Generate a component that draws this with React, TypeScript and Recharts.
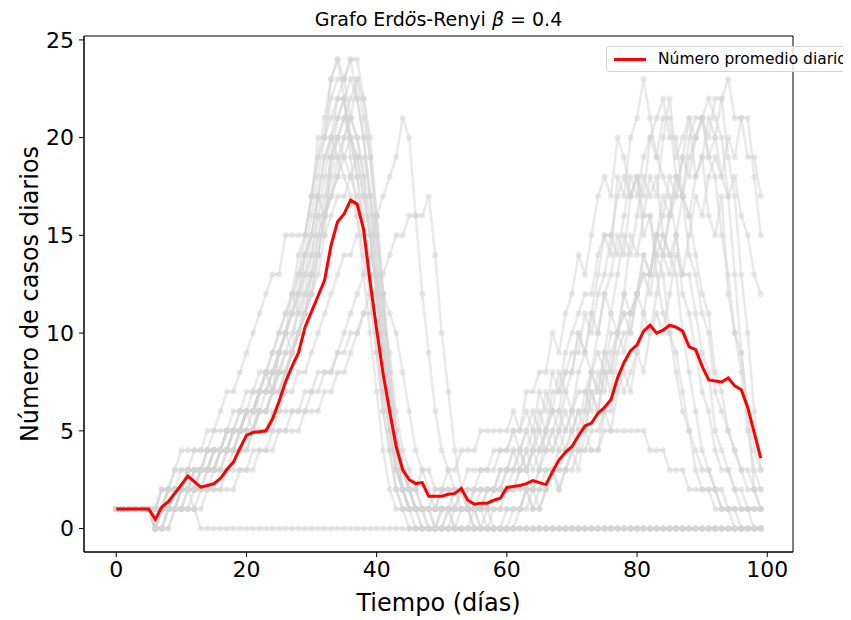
import React from "react";
import { LineChart, Line, XAxis, YAxis, ReferenceArea } from "recharts";

// ---- data ----
const meanDaily = [
  1, 1, 1, 1, 1, 1, 0.47, 1.1, 1.37, 1.8,
  2.25, 2.68, 2.4, 2.12, 2.2, 2.29, 2.56, 3.02, 3.4, 4.1,
  4.77, 4.92, 4.95, 5.0, 5.6, 6.5, 7.5, 8.3, 9.0, 10.3,
  11.1, 11.9, 12.7, 14.5, 15.7, 16.1, 16.8, 16.6, 15.3, 12.6,
  10.2, 7.9, 6.0, 4.2, 3.0, 2.5, 2.3, 2.35, 1.65, 1.65,
  1.65, 1.75, 1.8, 2.05, 1.45, 1.25, 1.3, 1.3, 1.45, 1.55,
  2.1, 2.15, 2.2, 2.3, 2.45, 2.35, 2.25, 2.9, 3.5, 3.9,
  4.2, 4.75, 5.25, 5.4, 5.9, 6.2, 6.6, 7.7, 8.5, 9.1,
  9.4, 10.1, 10.4, 10.0, 10.15, 10.4, 10.3, 10.1, 9.3, 9.15,
  8.3, 7.6, 7.55, 7.5, 7.7, 7.3, 7.1, 6.2, 4.9, 3.6,
];

const run01 = [
  1, 1, 1, 1, 1, 1, 0, 0, 0, 1,
  1, 2, 1, 0, 0, 0, 0, 0, 0, 0,
  0, 0, 0, 0, 0, 0, 0, 0, 0, 0,
  0, 0, 0, 0, 0, 0, 0, 0, 0, 0,
  0, 0, 0, 0, 0, 0, 0, 0, 0, 0,
  0, 0, 0, 0, 0, 0, 0, 0, 0, 0,
  0, 0, 0, 0, 0, 0, 0, 0, 0, 0,
  0, 0, 0, 0, 0, 0, 0, 0, 0, 0,
  0, 0, 0, 0, 0, 0, 0, 0, 0, 0,
  0, 0, 0, 0, 0, 0, 0, 0, 0, 0,
];
const run02 = [
  1, 1, 1, 1, 1, 1, 1, 2, 2, 3,
  4, 4, 4, 4, 5, 5, 6, 7, 7, 8,
  9, 10, 11, 12, 13, 13, 15, 15, 15, 15,
  17, 20, 20, 23, 24, 22, 19, 16, 13, 10,
  7, 4, 2, 1, 1, 0, 0, 0, 0, 0,
  0, 0, 0, 0, 0, 0, 0, 0, 0, 0,
  0, 0, 0, 0, 0, 0, 0, 0, 0, 0,
  0, 0, 0, 0, 0, 0, 0, 0, 0, 0,
  0, 0, 0, 0, 0, 0, 0, 0, 0, 0,
  0, 0, 0, 0, 0, 0, 0, 0, 0, 0,
];
const run03 = [
  1, 1, 1, 1, 1, 1, 1, 1, 2, 2,
  3, 3, 2, 3, 3, 4, 4, 5, 5, 6,
  6, 6, 7, 7, 8, 8, 9, 10, 11, 12,
  14, 16, 18, 20, 22, 23, 24, 24, 22, 20,
  16, 12, 8, 5, 3, 2, 1, 1, 1, 0,
  0, 1, 1, 2, 1, 1, 0, 1, 1, 1,
  2, 2, 3, 3, 4, 3, 5, 6, 6, 8,
  8, 10, 9, 11, 13, 15, 14, 18, 17, 20,
  21, 23, 21, 19, 18, 17, 15, 12, 11, 9,
  7, 6, 4, 3, 3, 2, 1, 1, 0, 0,
];
const run04 = [
  1, 1, 1, 1, 1, 1, 0, 1, 1, 2,
  2, 2, 3, 3, 3, 4, 4, 4, 5, 5,
  6, 6, 7, 7, 8, 9, 10, 11, 13, 15,
  17, 19, 21, 23, 24, 23, 21, 20, 18, 15,
  12, 8, 5, 3, 2, 1, 1, 0, 0, 0,
  0, 0, 0, 0, 0, 1, 1, 1, 0, 0,
  1, 1, 1, 2, 2, 2, 3, 3, 4, 4,
  5, 4, 6, 8, 7, 9, 11, 10, 12, 15,
  14, 16, 18, 17, 20, 22, 19, 20, 21, 18,
  19, 16, 15, 17, 12, 10, 9, 6, 4, 3,
];
const run05 = [
  1, 1, 1, 1, 1, 1, 1, 1, 1, 1,
  2, 2, 2, 2, 3, 3, 4, 4, 5, 5,
  5, 5, 6, 6, 7, 7, 8, 9, 10, 11,
  12, 14, 16, 18, 20, 21, 22, 23, 21, 19,
  15, 11, 7, 4, 2, 1, 1, 1, 0, 0,
  1, 1, 0, 0, 0, 0, 0, 0, 1, 1,
  1, 1, 1, 2, 1, 2, 2, 3, 2, 3,
  3, 4, 4, 5, 5, 6, 6, 8, 7, 8,
  9, 11, 10, 12, 14, 13, 15, 17, 16, 18,
  19, 21, 20, 22, 23, 21, 21, 19, 19, 17,
];
const run06 = [
  1, 1, 1, 1, 1, 1, 0, 0, 1, 1,
  1, 2, 2, 3, 3, 3, 3, 4, 4, 5,
  5, 5, 6, 6, 7, 8, 8, 9, 10, 12,
  13, 15, 17, 19, 20, 21, 20, 19, 17, 15,
  12, 9, 6, 4, 3, 2, 1, 1, 1, 1,
  2, 2, 1, 1, 1, 0, 0, 0, 0, 0,
  0, 1, 1, 2, 1, 1, 2, 3, 2, 3,
  4, 3, 5, 4, 4, 6, 5, 7, 8, 7,
  9, 8, 10, 11, 10, 12, 14, 13, 15, 17,
  16, 18, 19, 18, 20, 19, 21, 21, 18, 15,
];
const run07 = [
  1, 1, 1, 1, 1, 1, 1, 2, 2, 2,
  2, 3, 3, 3, 4, 4, 4, 5, 5, 5,
  6, 6, 7, 8, 8, 9, 10, 11, 12, 14,
  15, 17, 19, 20, 21, 22, 23, 22, 20, 17,
  14, 10, 7, 4, 3, 2, 2, 1, 1, 1,
  1, 1, 2, 2, 1, 1, 1, 0, 0, 0,
  0, 0, 1, 1, 2, 1, 2, 3, 3, 4,
  4, 5, 5, 7, 6, 8, 8, 10, 11, 10,
  12, 14, 13, 15, 17, 16, 18, 17, 20, 21,
  21, 19, 20, 18, 17, 18, 16, 15, 13, 12,
];
const run08 = [
  1, 1, 1, 1, 1, 1, 0, 0, 1, 1,
  1, 1, 1, 2, 2, 2, 2, 3, 3, 3,
  3, 4, 4, 4, 5, 5, 5, 6, 6, 6,
  7, 7, 8, 8, 9, 10, 11, 12, 13, 14,
  16, 17, 18, 19, 21, 20, 16, 12, 9, 6,
  4, 3, 2, 1, 1, 0, 0, 0, 0, 0,
  0, 0, 0, 0, 0, 0, 0, 0, 0, 0,
  0, 0, 0, 0, 0, 0, 0, 0, 0, 0,
  0, 0, 0, 0, 0, 0, 0, 0, 0, 0,
  0, 0, 0, 0, 0, 0, 0, 0, 0, 0,
];
const run09 = [
  1, 1, 1, 1, 1, 1, 1, 1, 1, 2,
  2, 2, 3, 3, 3, 3, 4, 4, 4, 4,
  4, 5, 5, 5, 5, 6, 6, 6, 6, 7,
  7, 8, 8, 8, 9, 9, 10, 10, 11, 12,
  12, 13, 14, 15, 15, 16, 16, 16, 17, 14,
  10, 7, 4, 2, 1, 1, 0, 0, 0, 0,
  0, 0, 0, 0, 0, 0, 0, 0, 0, 0,
  0, 0, 0, 0, 0, 0, 0, 0, 0, 0,
  0, 0, 0, 0, 0, 0, 0, 0, 0, 0,
  0, 0, 0, 0, 0, 0, 0, 0, 0, 0,
];
const run10 = [
  1, 1, 1, 1, 1, 1, 1, 1, 2, 3,
  3, 3, 4, 4, 4, 5, 5, 5, 6, 6,
  6, 7, 7, 8, 9, 10, 11, 12, 14, 15,
  17, 19, 20, 21, 22, 22, 20, 18, 16, 13,
  10, 7, 5, 3, 2, 2, 2, 3, 3, 2,
  2, 3, 3, 4, 4, 4, 5, 5, 5, 5,
  5, 6, 5, 7, 7, 8, 8, 10, 9, 11,
  12, 14, 13, 15, 17, 18, 17, 20, 19, 17,
  18, 15, 16, 13, 11, 10, 8, 6, 5, 4,
  3, 3, 2, 1, 1, 1, 0, 0, 0, 0,
];
const run11 = [
  1, 1, 1, 1, 1, 1, 0, 1, 1, 1,
  2, 2, 2, 3, 3, 3, 4, 4, 4, 5,
  6, 6, 7, 8, 7, 9, 10, 9, 12, 13,
  14, 16, 15, 19, 20, 19, 18, 17, 15, 13,
  10, 7, 5, 3, 2, 2, 1, 1, 1, 2,
  2, 2, 2, 2, 3, 3, 3, 3, 4, 4,
  4, 5, 4, 5, 6, 5, 7, 6, 8, 7,
  8, 10, 9, 11, 10, 12, 13, 15, 14, 17,
  18, 17, 20, 21, 22, 20, 20, 17, 16, 14,
  12, 11, 8, 7, 5, 4, 3, 2, 2, 1,
];
const run12 = [
  1, 1, 1, 1, 1, 1, 1, 1, 1, 2,
  2, 2, 3, 3, 3, 3, 4, 4, 4, 5,
  6, 6, 7, 7, 7, 8, 8, 9, 10, 11,
  13, 15, 16, 17, 18, 20, 21, 23, 22, 19,
  16, 12, 8, 5, 3, 2, 1, 1, 1, 1,
  1, 1, 1, 1, 1, 2, 2, 2, 2, 2,
  3, 3, 4, 3, 4, 5, 4, 5, 6, 5,
  6, 7, 7, 8, 9, 8, 10, 10, 12, 11,
  12, 13, 13, 15, 14, 16, 17, 19, 18, 20,
  21, 20, 22, 22, 19, 17, 13, 10, 6, 3,
];
const run13 = [
  1, 1, 1, 1, 1, 1, 0, 1, 2, 2,
  2, 3, 3, 3, 4, 4, 4, 5, 5, 6,
  7, 7, 8, 8, 9, 10, 11, 12, 13, 14,
  16, 18, 20, 22, 23, 23, 24, 22, 20, 17,
  13, 9, 6, 3, 2, 1, 1, 1, 0, 0,
  1, 1, 1, 1, 1, 1, 2, 2, 2, 3,
  3, 4, 4, 5, 4, 6, 5, 7, 7, 8,
  9, 9, 11, 10, 12, 13, 15, 14, 16, 18,
  17, 19, 20, 19, 21, 21, 18, 17, 14, 13,
  11, 10, 7, 6, 5, 4, 3, 3, 2, 2,
];
const run14 = [
  1, 1, 1, 1, 1, 1, 1, 1, 1, 1,
  2, 2, 2, 3, 3, 3, 4, 4, 5, 5,
  5, 6, 6, 7, 7, 8, 9, 9, 10, 11,
  13, 14, 16, 17, 19, 20, 21, 20, 18, 16,
  13, 10, 6, 4, 2, 1, 1, 1, 1, 1,
  2, 2, 2, 2, 2, 2, 3, 3, 3, 4,
  4, 5, 5, 6, 5, 7, 6, 8, 7, 9,
  10, 11, 12, 12, 14, 15, 15, 17, 18, 17,
  18, 16, 16, 14, 13, 10, 9, 7, 5, 3,
  2, 2, 1, 1, 1, 0, 0, 0, 0, 0,
];
const run15 = [
  1, 1, 1, 1, 1, 1, 1, 2, 2, 2,
  2, 3, 3, 3, 4, 4, 4, 5, 5, 5,
  6, 5, 7, 8, 7, 9, 10, 12, 11, 13,
  15, 17, 16, 19, 21, 22, 20, 18, 15, 12,
  9, 6, 4, 2, 1, 1, 0, 0, 0, 0,
  0, 0, 1, 1, 1, 1, 1, 1, 2, 2,
  2, 2, 2, 2, 2, 3, 3, 3, 3, 3,
  4, 4, 4, 4, 4, 5, 5, 5, 5, 5,
  5, 5, 4, 4, 4, 3, 3, 3, 2, 2,
  2, 2, 2, 1, 1, 1, 1, 1, 1, 1,
];
const run16 = [
  1, 1, 1, 1, 1, 1, 0, 1, 1, 2,
  2, 2, 3, 3, 3, 4, 4, 4, 5, 5,
  6, 6, 7, 7, 8, 9, 10, 11, 12, 14,
  15, 17, 19, 20, 19, 18, 17, 16, 14, 12,
  9, 6, 4, 2, 1, 1, 1, 1, 1, 1,
  1, 1, 1, 2, 2, 2, 2, 2, 2, 2,
  3, 3, 4, 3, 4, 4, 5, 4, 5, 6,
  5, 6, 6, 8, 7, 9, 8, 10, 11, 11,
  12, 14, 13, 15, 16, 18, 17, 19, 21, 20,
  21, 19, 18, 15, 13, 10, 8, 5, 3, 2,
];
const run17 = [
  1, 1, 1, 1, 1, 1, 0, 0, 0, 1,
  1, 1, 2, 2, 2, 3, 3, 3, 4, 4,
  4, 5, 5, 5, 6, 6, 7, 7, 8, 8,
  9, 10, 11, 12, 13, 14, 14, 15, 15, 14,
  13, 11, 9, 6, 4, 3, 2, 1, 1, 0,
  0, 0, 0, 1, 1, 1, 1, 2, 2, 2,
  2, 3, 3, 4, 3, 4, 4, 5, 4, 5,
  6, 5, 7, 6, 8, 7, 9, 10, 9, 11,
  12, 13, 12, 14, 15, 14, 15, 13, 13, 11,
  9, 8, 5, 4, 3, 2, 2, 1, 1, 1,
];
const run18 = [
  1, 1, 1, 1, 1, 1, 0, 0, 1, 1,
  1, 1, 1, 1, 2, 2, 2, 2, 2, 3,
  3, 3, 4, 4, 4, 5, 5, 5, 5, 6,
  6, 6, 7, 7, 8, 8, 9, 10, 11, 11,
  12, 12, 11, 10, 8, 6, 4, 3, 2, 1,
  1, 1, 0, 0, 0, 0, 0, 0, 0, 0,
  0, 0, 0, 0, 0, 0, 0, 0, 0, 0,
  0, 0, 0, 0, 0, 0, 0, 0, 0, 0,
  0, 0, 0, 0, 0, 0, 0, 0, 0, 0,
  0, 0, 0, 0, 0, 0, 0, 0, 0, 0,
];
const run19 = [
  1, 1, 1, 1, 1, 1, 1, 1, 2, 2,
  2, 3, 3, 3, 3, 4, 4, 4, 5, 5,
  5, 5, 6, 6, 7, 7, 8, 9, 10, 11,
  12, 13, 15, 16, 17, 17, 18, 19, 19, 17,
  15, 12, 8, 5, 3, 2, 1, 1, 1, 1,
  1, 1, 1, 1, 1, 1, 1, 2, 2, 2,
  2, 2, 3, 3, 2, 3, 4, 4, 5, 4,
  5, 6, 5, 7, 6, 8, 7, 9, 10, 10,
  12, 11, 13, 15, 14, 16, 18, 17, 19, 20,
  21, 22, 21, 20, 17, 13, 9, 6, 2, 1,
];
const run20 = [
  1, 1, 1, 1, 1, 1, 0, 1, 1, 1,
  2, 2, 2, 2, 3, 3, 3, 4, 4, 5,
  5, 5, 6, 6, 7, 7, 8, 9, 10, 11,
  12, 14, 16, 17, 18, 19, 20, 19, 17, 15,
  12, 9, 6, 4, 2, 1, 1, 0, 0, 0,
  0, 1, 1, 1, 1, 2, 2, 2, 2, 3,
  3, 4, 3, 4, 5, 4, 5, 6, 5, 7,
  6, 8, 9, 8, 10, 12, 11, 13, 15, 14,
  16, 18, 17, 18, 15, 14, 13, 10, 8, 6,
  4, 3, 2, 2, 1, 1, 1, 1, 1, 1,
];

const runs = [
  run01, run02, run03, run04, run05, run06, run07, run08, run09, run10,
  run11, run12, run13, run14, run15, run16, run17, run18, run19, run20,
];

const xTicks = [0, 20, 40, 60, 80, 100];
const yTicks = [0, 5, 10, 15, 20, 25];
const xDomain: [number, number] = [-4.95, 103.95];
const yDomain: [number, number] = [-1.2, 25.2];

const rows = meanDaily.map((m, day) => {
  const row: Record<string, number> = { day, mean: m };
  runs.forEach((r, k) => {
    row[`run${k}`] = r[day];
  });
  return row;
});

const FONT = "'DejaVu Sans', sans-serif";
const W = 843;
const H = 612;
const M = { top: 28, right: 58, bottom: 68, left: 76 };

export default function App() {
  return (
    <div
      style={{
        position: "relative",
        width: W,
        height: H,
        overflow: "hidden",
        fontFamily: FONT,
        background: "#fff",
      }}
    >
      {/* base chart: axes + individual runs */}
      <LineChart
        width={W}
        height={H}
        data={rows}
        margin={{ top: M.top, right: M.right, bottom: 0, left: 0 }}
      >
        <XAxis
          dataKey="day"
          type="number"
          domain={xDomain}
          ticks={xTicks}
          allowDataOverflow
          interval={0}
          height={M.bottom}
          stroke="#000"
          tickSize={5}
          tickMargin={4}
          tick={{ fill: "#000", fontSize: 22, fontFamily: FONT }}
        />
        <YAxis
          type="number"
          domain={yDomain}
          ticks={yTicks}
          allowDataOverflow
          interval={0}
          width={M.left}
          stroke="#000"
          tickSize={5}
          tickMargin={5}
          tick={{ fill: "#000", fontSize: 22, fontFamily: FONT }}
        />
        <ReferenceArea
          x1={xDomain[0]}
          x2={xDomain[1]}
          y1={yDomain[0]}
          y2={yDomain[1]}
          fill="none"
          stroke="#000"
          strokeWidth={1}
          fillOpacity={0}
        />
        {runs.map((_, k) => (
          <Line
            key={k}
            type="linear"
            dataKey={`run${k}`}
            stroke="#d3d3d3"
            strokeOpacity={0.5}
            strokeWidth={2.5}
            dot={{ r: 3, fill: "#d3d3d3", fillOpacity: 0.5, stroke: "none", strokeWidth: 0 }}
            activeDot={false}
            isAnimationActive={false}
          />
        ))}
      </LineChart>

      {/* overlay chart: mean line on top of everything */}
      <div style={{ position: "absolute", left: 0, top: 0 }}>
        <LineChart width={W} height={H} data={rows} margin={M}>
          <XAxis dataKey="day" type="number" domain={xDomain} allowDataOverflow hide />
          <YAxis type="number" domain={yDomain} allowDataOverflow hide />
          <Line
            type="linear"
            dataKey="mean"
            stroke="#ff0000"
            strokeWidth={3}
            dot={false}
            activeDot={false}
            isAnimationActive={false}
          />
        </LineChart>
      </div>

      {/* title */}
      <div
        style={{
          position: "absolute",
          left: M.left,
          width: 709,
          top: 0,
          textAlign: "center",
          fontSize: 19,
          lineHeight: "22px",
          color: "#000",
          whiteSpace: "nowrap",
        }}
      >
        Grafo Erd<span style={{ fontStyle: "italic" }}>ö</span>s-Renyi{" "}
        <span style={{ fontStyle: "italic" }}>β</span> = 0.4
      </div>

      {/* y label */}
      <div
        style={{
          position: "absolute",
          left: 22,
          top: 286,
          transform: "translate(-50%, -50%) rotate(-90deg)",
          fontSize: 24,
          lineHeight: "28px",
          color: "#000",
          whiteSpace: "nowrap",
        }}
      >
        Número de casos diarios
      </div>

      {/* x label */}
      <div
        style={{
          position: "absolute",
          left: M.left,
          width: 709,
          top: 581,
          textAlign: "center",
          fontSize: 24,
          lineHeight: "28px",
          color: "#000",
          whiteSpace: "nowrap",
        }}
      >
        Tiempo (días)
      </div>

      {/* legend */}
      <div
        style={{
          position: "absolute",
          left: 598,
          top: 38,
          width: 270,
          height: 26,
          boxSizing: "border-box",
          border: "1px solid #d5d5d5",
          borderRadius: 3,
          background: "rgba(255,255,255,0.8)",
          display: "flex",
          alignItems: "center",
        }}
      >
        <div
          style={{
            marginLeft: 7,
            width: 32,
            height: 3,
            background: "#ff0000",
          }}
        />
        <div
          style={{
            marginLeft: 12,
            fontSize: 15.5,
            color: "#000",
            whiteSpace: "nowrap",
          }}
        >
          Número promedio diario
        </div>
      </div>
    </div>
  );
}
